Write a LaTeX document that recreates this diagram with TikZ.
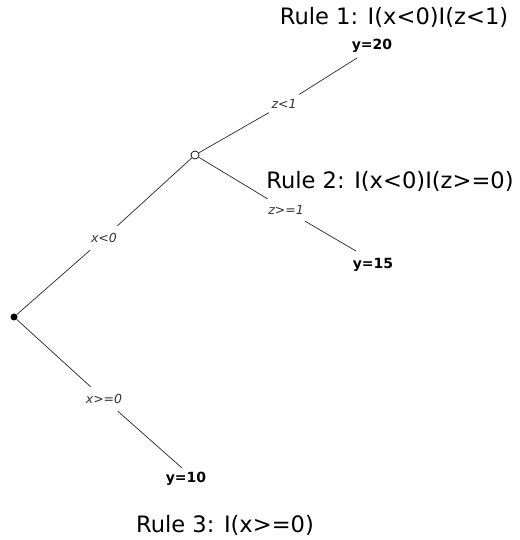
\documentclass[tikz,border=0pt]{standalone}
\usepackage{fontspec}
\setmainfont{DejaVu Sans}
\begin{document}
\begin{tikzpicture}[x=1pt,y=1pt,
  edge/.style={draw=black!85, line width=0.7pt},
  elab/.style={font=\fontsize{12.5}{14}\selectfont\itshape, text=black!80, inner sep=1pt},
  leaf/.style={font=\fontsize{14}{16}\selectfont\bfseries, inner sep=0pt},
  rule/.style={font=\fontsize{22.6}{26}\selectfont, inner sep=0pt}]
\useasboundingbox (0,0) rectangle (519,540);
% nodes
\node[circle, fill=black, inner sep=0pt, minimum size=7pt] (root) at (14,223) {};
\node[circle, draw=black, fill=white, inner sep=0pt, minimum size=8pt, line width=0.7pt] (inner) at (195,385) {};
\coordinate (l20) at (357,482);
\coordinate (l15) at (356,289);
\coordinate (l10) at (182,72);
% edge labels
\node[elab, minimum width=30pt, minimum height=24pt] (e1) at (104,302) {x<0};
\node[elab, minimum width=44pt, minimum height=24pt] (e2) at (104,141) {x>=0};
\node[elab, minimum width=30pt, minimum height=20pt] (e3) at (284,436) {z<1};
\node[elab, minimum width=46pt, minimum height=22pt] (e4) at (286,330) {z>=1};
% leaf labels
\node[leaf] (y20) at (372,494) {y=20};
\node[leaf] (y15) at (373,275) {y=15};
\node[leaf] (y10) at (186,61) {y=10};
% rules
\node[rule] (r1) at (394,523) {Rule 1: I(x<0)I(z<1)};
\node[rule] (r2) at (390,359) {Rule 2: I(x<0)I(z>=0)};
\node[rule] (r3) at (225,15) {Rule 3: I(x>=0)};
% edges
\draw[edge] (root) -- (e1);
\draw[edge] (e1) -- (inner);
\draw[edge] (root) -- (e2);
\draw[edge] (e2) -- (l10);
\draw[edge] (inner) -- (e3);
\draw[edge] (e3) -- (l20);
\draw[edge] (inner) -- (e4);
\draw[edge] (e4) -- (l15);
\end{tikzpicture}
\end{document}
